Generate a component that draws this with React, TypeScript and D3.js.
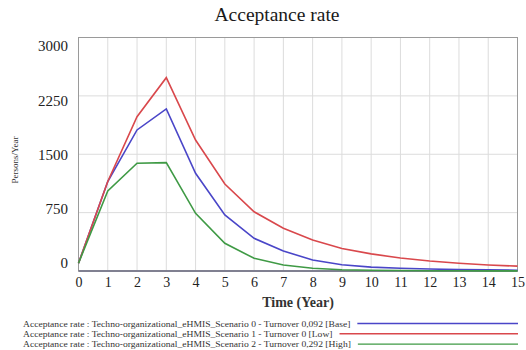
import React, { useEffect, useRef } from "react";
import * as d3 from "d3";

const years = [0, 1, 2, 3, 4, 5, 6, 7, 8, 9, 10, 11, 12, 13, 14, 15];
const baseValues = [100, 1150, 1812, 2082, 1255, 720, 420, 257, 141, 80, 50, 35, 25, 18, 14, 10];
const lowValues = [100, 1150, 1983, 2484, 1683, 1118, 761, 549, 398, 290, 220, 167, 128, 100, 78, 62];
const highValues = [100, 1028, 1384, 1392, 741, 356, 163, 77, 35, 16, 9, 6, 4, 3, 2, 2];
const yTicks = [0, 750, 1500, 2250, 3000];
const seriesNames = [
  "Acceptance rate : Techno-organizational_eHMIS_Scenario 0 - Turnover 0,092 [Base]",
  "Acceptance rate : Techno-organizational_eHMIS_Scenario 1 - Turnover 0 [Low]",
  "Acceptance rate : Techno-organizational_eHMIS_Scenario 2 - Turnover 0,292 [High]",
];
const seriesColors = ["#4a46c8", "#d9484c", "#3f9a45"];
const title = "Acceptance rate";
const xTitle = "Time (Year)";
const yTitle = "Persons/Year";

export default function App() {
  const ref = useRef<SVGSVGElement | null>(null);

  useEffect(() => {
    const svg = d3.select(ref.current);
    svg.selectAll("*").remove();
    const serif = "'Liberation Serif', 'Times New Roman', serif";
    const left = 78.5, right = 517.5, top = 37.5, bottom = 271;
    const x = d3.scaleLinear().domain([0, 15]).range([left, right]);
    const y = d3.scaleLinear().domain([0, 3000]).range([bottom, top]);
    const yLab = d3.scaleLinear().domain([0, 3000]).range([263, 46]);

    // gridlines
    const g = svg.append("g");
    g.selectAll(".vg").data(years).enter().append("line")
      .attr("x1", (d) => x(d)).attr("x2", (d) => x(d))
      .attr("y1", top).attr("y2", bottom)
      .attr("stroke", "#dcdcdc").attr("stroke-width", 1);
    g.selectAll(".hg").data(yTicks).enter().append("line")
      .attr("x1", left).attr("x2", right)
      .attr("y1", (d) => y(d)).attr("y2", (d) => y(d))
      .attr("stroke", "#dcdcdc").attr("stroke-width", 1);

    // frame
    svg.append("rect").attr("x", left).attr("y", top)
      .attr("width", right - left).attr("height", bottom - top)
      .attr("fill", "none").attr("stroke", "#9a9a9a").attr("stroke-width", 1);
    svg.append("line").attr("x1", left).attr("x2", right).attr("y1", bottom).attr("y2", bottom)
      .attr("stroke", "#6a6a80").attr("stroke-width", 1.5);

    // y axis labels
    const ya = d3.axisLeft(yLab).tickValues(yTicks).tickSize(0).tickPadding(0).tickFormat((d) => String(d));
    const yg = svg.append("g").attr("transform", `translate(68,0)`).call(ya);
    yg.select(".domain").remove();
    yg.selectAll("text").attr("font-family", serif).attr("font-size", 15).attr("fill", "#222");

    // x axis labels
    const xa = d3.axisBottom(x).tickValues(years).tickSize(0).tickPadding(0).tickFormat((d) => String(d));
    const xg = svg.append("g").attr("transform", `translate(0,277)`).call(xa);
    xg.select(".domain").remove();
    xg.selectAll("text").attr("font-family", serif).attr("font-size", 14).attr("fill", "#222");

    // lines
    const line = d3.line<number>().x((_, i) => x(years[i])).y((d) => y(d));
    [baseValues, lowValues, highValues].forEach((vals, i) => {
      svg.append("path").datum(vals).attr("d", line)
        .attr("fill", "none").attr("stroke", seriesColors[i]).attr("stroke-width", 1.6);
    });

    // titles
    svg.append("text").attr("x", 277).attr("y", 21).attr("text-anchor", "middle")
      .attr("font-family", serif).attr("font-size", 19.5).attr("fill", "#1a1a1a").text(title);
    svg.append("text").attr("x", 298).attr("y", 307).attr("text-anchor", "middle")
      .attr("font-family", serif).attr("font-size", 14).attr("font-weight", "bold").attr("fill", "#333").text(xTitle);
    svg.append("text").attr("transform", "translate(18,160) rotate(-90)").attr("text-anchor", "middle")
      .attr("font-family", serif).attr("font-size", 9).attr("fill", "#333").text(yTitle);

    // legend
    const ly = [323.5, 333.8, 344.1];
    const sx = 1.09;
    seriesNames.forEach((name, i) => {
      const t = svg.append("text")
        .attr("transform", `translate(23,${ly[i] + 3}) scale(${sx},1)`)
        .attr("font-family", serif).attr("font-size", 8.8).attr("fill", "#333").text(name);
      const w = (t.node() as SVGTextElement).getComputedTextLength() * sx;
      svg.append("line").attr("x1", 23 + w + 7).attr("x2", 518)
        .attr("y1", ly[i]).attr("y2", ly[i])
        .attr("stroke", seriesColors[i]).attr("stroke-width", 1.4);
    });
  }, []);

  return (
    <svg ref={ref} width={526} height={350}
      style={{ position: "absolute", left: 0, top: 0, background: "#fff" }} />
  );
}
